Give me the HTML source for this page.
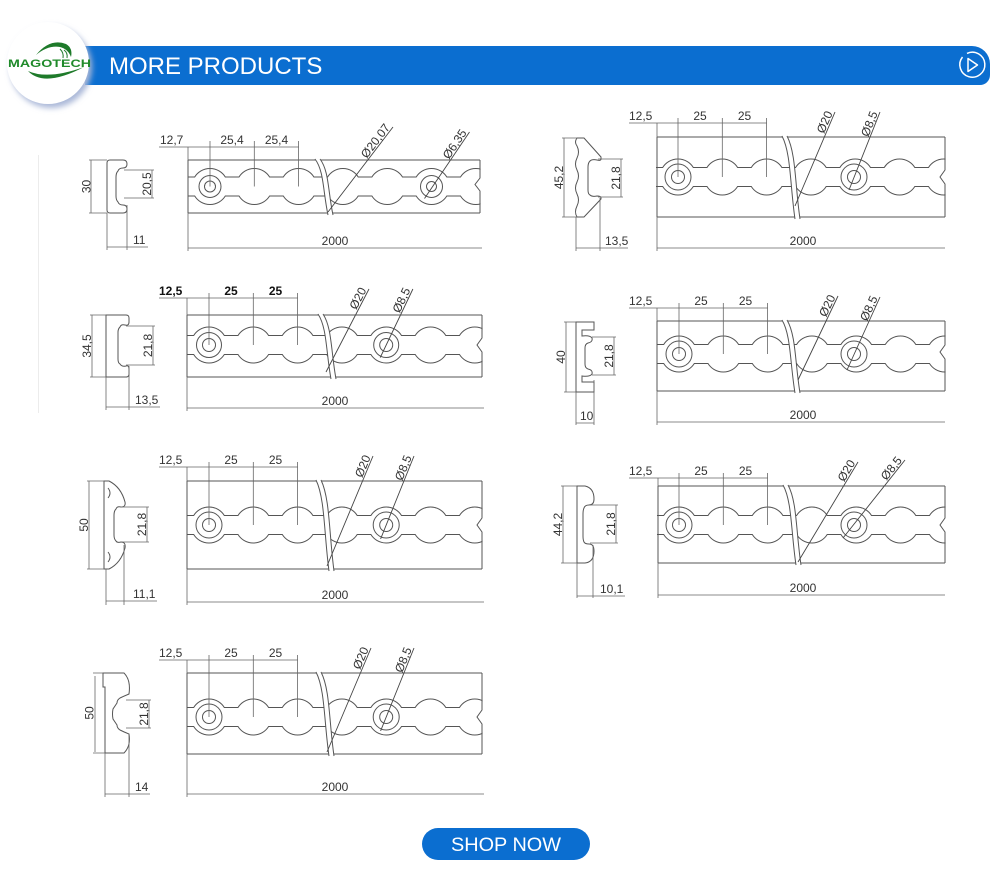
<!DOCTYPE html>
<html><head><meta charset="utf-8"><style>
html,body{margin:0;padding:0;background:#fff;}
svg{display:block;}
.t{font-family:"Liberation Sans",Arial,sans-serif;font-size:12px;fill:#333;}
.b{font-weight:bold;fill:#111;}
.ln{stroke:#555;stroke-width:1;fill:none;}
.dm{stroke:#666;stroke-width:0.8;fill:none;}
.ld{stroke:#444;stroke-width:0.9;fill:none;}
</style></head><body>
<svg width="1000" height="893" viewBox="0 0 1000 893" xmlns="http://www.w3.org/2000/svg">
<defs>
<path id="ch" d="M-22,-9.5 H-15.3 A18,18 0 0 1 15.3,-9.5 H29 A18,18 0 0 1 59.6,-9.5 H73.3 A18,18 0 0 1 103.9,-9.5 H117.6 A18,18 0 0 1 148.2,-9.5 H161.9 A18,18 0 0 1 192.5,-9.5 H206.2 A18,18 0 0 1 236.8,-9.5 H250.5 A18,18 0 0 1 281.1,-9.5 M-22,9.5 H-15.3 A18,18 0 0 0 15.3,9.5 H29 A18,18 0 0 0 59.6,9.5 H73.3 A18,18 0 0 0 103.9,9.5 H117.6 A18,18 0 0 0 148.2,9.5 H161.9 A18,18 0 0 0 192.5,9.5 H206.2 A18,18 0 0 0 236.8,9.5 H250.5 A18,18 0 0 0 281.1,9.5" fill="none" stroke="#555" stroke-width="1"/>
<filter id="sh" x="-30%" y="-30%" width="160%" height="160%"><feGaussianBlur stdDeviation="3"/></filter>
</defs>

<!-- HEADER -->
<path d="M85,46 H972 A18,18 0 0 1 990,64 V75 A10,10 0 0 1 980,85 H85 Z" fill="#0b6ed0"/>
<text x="109" y="74" font-family="Liberation Sans, Arial, sans-serif" font-size="24" fill="#fff">MORE PRODUCTS</text>
<path d="M962.5,57 A12.5,12.5 0 1 0 967,53.4" fill="none" stroke="#fff" stroke-width="1.5"/>
<path d="M968,58.5 L977.5,65 L968,71.5 Z" fill="none" stroke="#fff" stroke-width="1.5" stroke-linejoin="round"/>
<circle cx="51" cy="67" r="41" fill="#aab8d8" filter="url(#sh)"/>
<circle cx="48" cy="63" r="41" fill="#fff"/>
<path d="M36,55 Q50,38 66,44 Q73,48 71,57 Q68,49 60,47 Q48,45 36,55 Z" fill="#1e7a2a"/>
<path d="M64,50 Q68,53 67,58 M60,49 Q64,53 63,58" stroke="#1e7a2a" stroke-width="1" fill="none"/>
<path d="M28,71 Q44,88 84,67 Q48,80 28,71 Z" fill="#1e7a2a"/>
<text x="8" y="67" font-family="Liberation Sans, Arial, sans-serif" font-size="11" font-weight="bold" fill="#1f8a2a" textLength="83" lengthAdjust="spacingAndGlyphs">MAGOTECH</text>

<line x1="38.5" y1="155" x2="38.5" y2="413" stroke="#ececec" stroke-width="1"/>

<!-- ============ L1 ============ -->
<g>
<path class="ln" d="M188,160 H480 M188,213 H480 M188,160 V213"/>
<use href="#ch" transform="translate(210,186.5)"/>
<rect x="480.6" y="158" width="40" height="57" fill="#fff"/>
<path class="ln" d="M480,160 V178 L475,184.5 L480,191 V213"/>
<path d="M315,159 C324,170.6 323,191.8 328,215 L333,215 C328,191.8 329,170.6 320,159 Z" fill="#fff"/>
<path class="ln" d="M315,159 C324,170.6 323,191.8 328,215 M320,159 C329,170.6 328,191.8 333,215"/>
<circle class="ln" cx="210" cy="186.5" r="11"/><circle class="ln" cx="210" cy="186.5" r="5.5"/>
<circle class="ln" cx="431.5" cy="186.5" r="11"/><circle class="ln" cx="431.5" cy="186.5" r="5"/>
<path class="dm" d="M159,147 H299 M188,147 V160 M210,141 V186.5 M254.3,141 V186.5 M298.6,141 V186.5"/>
<text class="t" x="160" y="144">12,7</text>
<text class="t" x="232" y="144" text-anchor="middle">25,4</text>
<text class="t" x="276.5" y="144" text-anchor="middle">25,4</text>
<path class="dm" d="M188,213 V251 M188,248 H482"/>
<text class="t" x="335" y="245" text-anchor="middle">2000</text>
<path class="ld" d="M328,212 L393,127 M424.5,198.5 L469.5,132"/>
<text class="t" transform="translate(393,127) rotate(-52.6)" x="-2" y="-1.5" text-anchor="end">Ø20,07</text>
<text class="t" transform="translate(469.5,132) rotate(-56)" x="-2" y="-1.5" text-anchor="end">Ø6,35</text>
<path class="ln" d="M107,163 Q107,160 110,160 H123 Q127,160 127,164 Q127,168 123,168 Q119,168 118,171 Q116,173 116,177 V196 Q116,200 118,202 Q119,205 123,205 Q127,205 127,209 Q127,213 123,213 H110 Q107,213 107,210 Z"/>
<path class="dm" d="M91,160 V213 M89,160 H107 M89,213 H107 M152,170 V198 M124,170 H154 M124,198 H154 M107,213 V250 M127,205 V250 M107,247 H148"/>
<text class="t" transform="translate(90.5,186.5) rotate(-90)" text-anchor="middle">30</text>
<text class="t" transform="translate(151,184) rotate(-90)" text-anchor="middle">20,5</text>
<text class="t" x="133" y="244">11</text>
</g>

<!-- ============ L2 ============ -->
<g>
<path class="ln" d="M187,315 H482 M187,377 H482 M187,315 V377"/>
<use href="#ch" transform="translate(209,345)"/>
<rect x="482.6" y="313" width="40" height="66" fill="#fff"/>
<path class="ln" d="M482,315 V338 L477,345 L482,352 V377"/>
<path d="M318,314 C327,327.4 326,352.2 331,379 L336,379 C331,352.2 332,327.4 323,314 Z" fill="#fff"/>
<path class="ln" d="M318,314 C327,327.4 326,352.2 331,379 M323,314 C332,327.4 331,352.2 336,379"/>
<circle class="ln" cx="209" cy="345" r="12.5"/><circle class="ln" cx="209" cy="345" r="6.5"/>
<circle class="ln" cx="386.2" cy="345" r="12.5"/><circle class="ln" cx="386.2" cy="345" r="6.5"/>
<path class="dm" d="M159,298 H298 M187,298 V315 M209,293 V345 M253.3,293 V345 M297.6,293 V345"/>
<text class="t b" x="159" y="295">12,5</text>
<text class="t b" x="231" y="295" text-anchor="middle">25</text>
<text class="t b" x="275.5" y="295" text-anchor="middle">25</text>
<path class="dm" d="M187,377 V411 M187,408 H484"/>
<text class="t" x="335" y="405" text-anchor="middle">2000</text>
<path class="ld" d="M326,372 L369,289 M380.2,357.6 L412.9,289"/>
<text class="t" transform="translate(369,289) rotate(-62.6)" x="-2" y="-1.5" text-anchor="end">Ø20</text>
<text class="t" transform="translate(412.9,289) rotate(-64.5)" x="-2" y="-1.5" text-anchor="end">Ø8,5</text>
<path class="ln" d="M106,315 H126 Q129,315 129,318 V322 Q129,326 125,325 Q121,324 120,327 Q118,329 118,332 V359 Q118,363 120,364 Q122,367 126,366 Q129,365 129,369 V374 Q129,377 126,377 H106 Z"/>
<path class="dm" d="M92,315 V377 M90,315 H106 M90,377 H106 M153,326 V365 M126,326 H155 M126,365 H155 M106,377 V410 M129,366 V410 M106,407 H160"/>
<text class="t" transform="translate(91,346) rotate(-90)" text-anchor="middle">34,5</text>
<text class="t" transform="translate(152,345.5) rotate(-90)" text-anchor="middle">21,8</text>
<text class="t" x="135" y="404">13,5</text>
</g>

<!-- ============ L3 ============ -->
<g>
<path class="ln" d="M187,481 H482 M187,569 H482 M187,481 V569"/>
<use href="#ch" transform="translate(209,525)"/>
<rect x="482.6" y="479" width="40" height="92" fill="#fff"/>
<path class="ln" d="M482,481 V518 L477,525 L482,532 V569"/>
<path d="M316,480 C325,498.6 324,533.8 329,571 L334,571 C329,533.8 330,498.6 321,480 Z" fill="#fff"/>
<path class="ln" d="M316,480 C325,498.6 324,533.8 329,571 M321,480 C330,498.6 329,533.8 334,571"/>
<circle class="ln" cx="209" cy="525" r="13"/><circle class="ln" cx="209" cy="525" r="6.5"/>
<circle class="ln" cx="386.2" cy="525" r="13"/><circle class="ln" cx="386.2" cy="525" r="6.5"/>
<path class="dm" d="M159,467 H298 M187,467 V481 M209,462 V525 M253.3,462 V525 M297.6,462 V525"/>
<text class="t" x="159" y="464">12,5</text>
<text class="t" x="231" y="464" text-anchor="middle">25</text>
<text class="t" x="275.5" y="464" text-anchor="middle">25</text>
<path class="dm" d="M187,569 V605 M187,602 H484"/>
<text class="t" x="335" y="599" text-anchor="middle">2000</text>
<path class="ld" d="M327,566 L373,456 M380.6,538.9 L414,456"/>
<text class="t" transform="translate(373,456) rotate(-67.3)" x="-2" y="-1.5" text-anchor="end">Ø20</text>
<text class="t" transform="translate(414,456) rotate(-68)" x="-2" y="-1.5" text-anchor="end">Ø8,5</text>
<path class="ln" d="M104,481 H109 Q121,487 125,502 Q126,507 121,507 Q117,506 116,509 Q114,511 114,515 V535 Q114,539 116,541 Q117,543 121,542 Q126,542 125,548 Q121,563 109,569 H104 Z"/>
<path class="ln" d="M108,488 Q112,493 108,498 M108,552 Q112,557 108,562"/>
<path class="dm" d="M89,481 V569 M87,481 H104 M87,569 H104 M147,507 V542 M121,507 H149 M121,542 H149 M106,569 V605 M124,545 V605 M106,601 H157"/>
<text class="t" transform="translate(88,525) rotate(-90)" text-anchor="middle">50</text>
<text class="t" transform="translate(146,524.5) rotate(-90)" text-anchor="middle">21,8</text>
<text class="t" x="133" y="598">11,1</text>
</g>

<!-- ============ L4 ============ -->
<g>
<path class="ln" d="M187,673 H482 M187,754 H482 M187,673 V754"/>
<use href="#ch" transform="translate(209,717)"/>
<rect x="482.6" y="671" width="40" height="85" fill="#fff"/>
<path class="ln" d="M482,673 V710 L477,717 L482,724 V754"/>
<path d="M316,672 C325,689.2 324,721.6 329,756 L334,756 C329,721.6 330,689.2 321,672 Z" fill="#fff"/>
<path class="ln" d="M316,672 C325,689.2 324,721.6 329,756 M321,672 C330,689.2 329,721.6 334,756"/>
<circle class="ln" cx="209" cy="717" r="13"/><circle class="ln" cx="209" cy="717" r="6.5"/>
<circle class="ln" cx="386.2" cy="717" r="13"/><circle class="ln" cx="386.2" cy="717" r="6.5"/>
<path class="dm" d="M159,660 H298 M187,660 V673 M209,655 V717 M253.3,655 V717 M297.6,655 V717"/>
<text class="t" x="159" y="657">12,5</text>
<text class="t" x="231" y="657" text-anchor="middle">25</text>
<text class="t" x="275.5" y="657" text-anchor="middle">25</text>
<path class="dm" d="M187,754 V797 M187,794 H484"/>
<text class="t" x="335" y="791" text-anchor="middle">2000</text>
<path class="ld" d="M327,752 L371,648 M380.6,730.9 L414,648"/>
<text class="t" transform="translate(371,648) rotate(-67)" x="-2" y="-1.5" text-anchor="end">Ø20</text>
<text class="t" transform="translate(414,648) rotate(-68)" x="-2" y="-1.5" text-anchor="end">Ø8,5</text>
<path class="ln" d="M103,673 H124 Q131,680 129,694 Q124,696 120,698 Q117,700 117,703 Q115,706 113,709 Q112,714 113,719 Q115,722 117,725 Q117,728 120,730 Q124,732 129,734 Q131,746 124,753 H105 V687 H103 Z"/>
<path class="dm" d="M95,676 V752 M93,673 H103 M93,753 H105 M149,700 V728 M126,700 H151 M126,728 H151 M105,753 V797 M129,734 V797 M105,794 H150"/>
<text class="t" transform="translate(93.5,713) rotate(-90)" text-anchor="middle">50</text>
<text class="t" transform="translate(148,714) rotate(-90)" text-anchor="middle">21,8</text>
<text class="t" x="135" y="791">14</text>
</g>

<!-- ============ R1 ============ -->
<g>
<path class="ln" d="M657,137 H945 M657,217 H945 M657,137 V217"/>
<use href="#ch" transform="translate(678,177)"/>
<rect x="945.6" y="135" width="40" height="84" fill="#fff"/>
<path class="ln" d="M945,137 V170 L940,177 L945,184 V217"/>
<path d="M782,136 C791,153 790,185 795,219 L800,219 C795,185 796,153 787,136 Z" fill="#fff"/>
<path class="ln" d="M782,136 C791,153 790,185 795,219 M787,136 C796,153 795,185 800,219"/>
<circle class="ln" cx="678" cy="177" r="13"/><circle class="ln" cx="678" cy="177" r="6.5"/>
<circle class="ln" cx="854" cy="177" r="13"/><circle class="ln" cx="854" cy="177" r="6.5"/>
<path class="dm" d="M629,123 H766.6 M657,123 V137 M678,118 V177 M722.3,118 V177 M766.6,118 V177"/>
<text class="t" x="629" y="120">12,5</text>
<text class="t" x="700" y="120" text-anchor="middle">25</text>
<text class="t" x="744.5" y="120" text-anchor="middle">25</text>
<path class="dm" d="M657,217 V251 M657,248 H945"/>
<text class="t" x="803" y="245" text-anchor="middle">2000</text>
<path class="ld" d="M795,206 L835,112 M849,190 L880,112"/>
<text class="t" transform="translate(835,112) rotate(-66.7)" x="-2" y="-1.5" text-anchor="end">Ø20</text>
<text class="t" transform="translate(880,112) rotate(-68.3)" x="-2" y="-1.5" text-anchor="end">Ø8,5</text>
<path class="ln" d="M577,138 H584 L601,157 V159 Q601,161 597,160 Q592,159 590,161 Q588,163 588,167 V190 Q588,194 590,195 Q592,197 597,196 Q601,196 601,198 V199 L584,217 H577 Q574,212 577,206 Q580,200 577,194 Q574,188 577,182 Q580,176 577,170 Q574,164 577,158 Q580,152 577,146 Q574,142 577,138 Z"/>
<path class="dm" d="M564,138 V217 M562,138 H577 M562,217 H577 M621,159 V197 M598,159 H623 M598,197 H623 M576,217 V251 M600,198 V251 M576,248 H628"/>
<text class="t" transform="translate(563,177.5) rotate(-90)" text-anchor="middle">45,2</text>
<text class="t" transform="translate(620,178) rotate(-90)" text-anchor="middle">21,8</text>
<text class="t" x="605" y="245">13,5</text>
</g>

<!-- ============ R2 ============ -->
<g>
<path class="ln" d="M657,321 H945 M657,391 H945 M657,321 V391"/>
<use href="#ch" transform="translate(679,354)"/>
<rect x="945.6" y="319" width="40" height="74" fill="#fff"/>
<path class="ln" d="M945,321 V345 L940,352 L945,359 V391"/>
<path d="M782,320 C791,335 790,363 795,393 L800,393 C795,363 796,335 787,320 Z" fill="#fff"/>
<path class="ln" d="M782,320 C791,335 790,363 795,393 M787,320 C796,335 795,363 800,393"/>
<circle class="ln" cx="679" cy="354" r="13"/><circle class="ln" cx="679" cy="354" r="6.5"/>
<circle class="ln" cx="854" cy="354" r="13"/><circle class="ln" cx="854" cy="354" r="6.5"/>
<path class="dm" d="M629,308 H767.6 M657,308 V321 M679,303 V354 M723.3,303 V354 M767.6,303 V354"/>
<text class="t" x="629" y="305">12,5</text>
<text class="t" x="701" y="305" text-anchor="middle">25</text>
<text class="t" x="745.5" y="305" text-anchor="middle">25</text>
<path class="dm" d="M657,391 V425 M657,422 H945"/>
<text class="t" x="803" y="419" text-anchor="middle">2000</text>
<path class="ld" d="M798,380 L838,296 M847,370 L880,297"/>
<text class="t" transform="translate(838,296) rotate(-64.5)" x="-2" y="-1.5" text-anchor="end">Ø20</text>
<text class="t" transform="translate(880,297) rotate(-65.7)" x="-2" y="-1.5" text-anchor="end">Ø8,5</text>
<path class="ln" d="M576,322 H594 V330 H582 V336 Q590,335 592,338 Q593,342 588,343 Q585,344 585,348 V364 Q585,368 588,369 Q593,370 592,374 Q590,377 582,376 V382 H594 V392 H576 Z"/>
<path class="dm" d="M566,322 V392 M564,322 H576 M564,392 H576 M614,337 V375 M592,337 H616 M592,375 H616 M576,392 V425 M594,380 V425 M576,423 H594"/>
<text class="t" transform="translate(565,357) rotate(-90)" text-anchor="middle">40</text>
<text class="t" transform="translate(613,356) rotate(-90)" text-anchor="middle">21,8</text>
<text class="t" x="580" y="420">10</text>
</g>

<!-- ============ R3 ============ -->
<g>
<path class="ln" d="M658,486 H945 M658,563 H945 M658,486 V563"/>
<use href="#ch" transform="translate(679,525)"/>
<rect x="945.6" y="484" width="40" height="81" fill="#fff"/>
<path class="ln" d="M945,486 V518 L940,525 L945,532 V563"/>
<path d="M783,485 C792,501 791,532 796,565 L801,565 C796,532 797,501 788,485 Z" fill="#fff"/>
<path class="ln" d="M783,485 C792,501 791,532 796,565 M788,485 C797,501 796,532 801,565"/>
<circle class="ln" cx="679" cy="525" r="13"/><circle class="ln" cx="679" cy="525" r="6.5"/>
<circle class="ln" cx="854" cy="525" r="13"/><circle class="ln" cx="854" cy="525" r="6.5"/>
<path class="dm" d="M629,478 H767.6 M658,478 V486 M679,473 V525 M723.3,473 V525 M767.6,473 V525"/>
<text class="t" x="629" y="475">12,5</text>
<text class="t" x="701" y="475" text-anchor="middle">25</text>
<text class="t" x="745.5" y="475" text-anchor="middle">25</text>
<path class="dm" d="M658,563 V598 M658,595 H945"/>
<text class="t" x="803" y="592" text-anchor="middle">2000</text>
<path class="ld" d="M798,562 L858,462 M843,538 L905,460"/>
<text class="t" transform="translate(858,462) rotate(-59)" x="-2" y="-1.5" text-anchor="end">Ø20</text>
<text class="t" transform="translate(905,460) rotate(-51.5)" x="-2" y="-1.5" text-anchor="end">Ø8,5</text>
<path class="ln" d="M577,486 H585 Q594,488 594,499 Q594,505 589,505 Q585,505 584,508 Q583,510 583,514 V536 Q583,540 584,542 Q585,544 589,544 Q594,544 594,551 Q594,562 585,563 H577 Z"/>
<path class="dm" d="M563,486 V563 M561,486 H577 M561,563 H577 M616,505 V543 M590,505 H618 M590,543 H618 M577,563 V598 M593,545 V598 M577,596 H625"/>
<text class="t" transform="translate(562,524.5) rotate(-90)" text-anchor="middle">44,2</text>
<text class="t" transform="translate(615,524) rotate(-90)" text-anchor="middle">21,8</text>
<text class="t" x="600" y="593">10,1</text>
</g>

<!-- SHOP NOW -->
<rect x="422" y="828" width="168" height="32" rx="16" fill="#0b6ed0"/>
<text x="506" y="851" text-anchor="middle" font-family="Liberation Sans, Arial, sans-serif" font-size="19" fill="#fff" textLength="110" lengthAdjust="spacingAndGlyphs">SHOP NOW</text>
</svg>
</body></html>
